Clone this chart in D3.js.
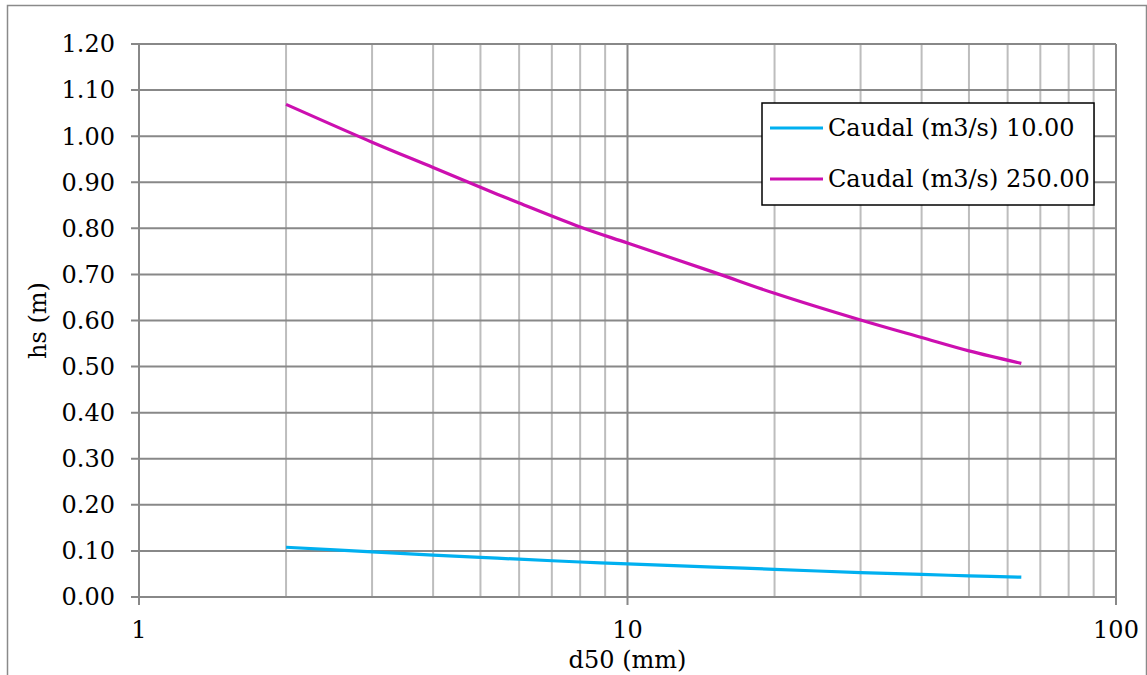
<!DOCTYPE html>
<html>
<head>
<meta charset="utf-8">
<script src="https://cdn.jsdelivr.net/npm/d3@7"></script>
<style>
  html, body { margin: 0; padding: 0; background: #fff; }
  svg { display: block; font-family: "DejaVu Serif", Georgia, serif; }
</style>
</head>
<body>
<div id="chart"></div>
<script>
// d50 (mm) sample points
const d50 = [2, 3, 4, 5, 6, 8, 10, 15, 20, 30, 40, 50, 64];
const hsQ10 = [0.108, 0.098, 0.091, 0.086, 0.082, 0.076, 0.072, 0.065, 0.060, 0.053, 0.049, 0.046, 0.043];
const hsQ250 = [1.069, 0.987, 0.932, 0.889, 0.855, 0.803, 0.768, 0.705, 0.659, 0.601, 0.563, 0.534, 0.507];
const seriesNames = ['Caudal (m3/s) 10.00', 'Caudal (m3/s) 250.00'];
const seriesColors = ['#00b0f0', '#cc0fb0'];
const yTicks = [0, 0.1, 0.2, 0.3, 0.4, 0.5, 0.6, 0.7, 0.8, 0.9, 1.0, 1.1, 1.2];
const xMajor = [1, 10, 100];

const W = 1147, H = 675;
const x = d3.scaleLog().domain([1, 100]).range([139, 1116]);
const y = d3.scaleLinear().domain([0, 1.2]).range([597, 44]);
const FS = 24;

const svg = d3.select('#chart').append('svg')
  .attr('width', W).attr('height', H);

// outer chart border
svg.append('rect')
  .attr('x', 7.5).attr('y', 5.5)
  .attr('width', 1139).attr('height', 700)
  .attr('fill', '#fff').attr('stroke', '#8a8a8a').attr('stroke-width', 1.5);

// minor vertical gridlines (2..9 per decade)
const minor = [];
for (const dec of [1, 10]) for (let k = 2; k <= 9; k++) minor.push(dec * k);

svg.append('g').selectAll('line')
  .data(minor)
  .join('line')
  .attr('x1', d => x(d)).attr('x2', d => x(d))
  .attr('y1', y(1.2)).attr('y2', y(0))
  .attr('stroke', '#bdbdbd').attr('stroke-width', 2);

// horizontal gridlines with tick stubs
svg.append('g').selectAll('line')
  .data(yTicks)
  .join('line')
  .attr('x1', 131).attr('x2', x(100))
  .attr('y1', d => y(d)).attr('y2', d => y(d))
  .attr('stroke', '#888').attr('stroke-width', 2);

// major vertical gridlines + tick stubs below axis
svg.append('g').selectAll('line')
  .data(xMajor)
  .join('line')
  .attr('x1', d => x(d)).attr('x2', d => x(d))
  .attr('y1', y(1.2)).attr('y2', y(0) + 8)
  .attr('stroke', '#888').attr('stroke-width', 2);

// y tick labels
svg.append('g').selectAll('text')
  .data(yTicks)
  .join('text')
  .attr('x', 115).attr('y', d => y(d))
  .attr('dy', '0.35em')
  .attr('text-anchor', 'end')
  .attr('font-size', FS)
  .text(d => d3.format('.2f')(d));

// x tick labels
svg.append('g').selectAll('text')
  .data(xMajor)
  .join('text')
  .attr('x', d => x(d)).attr('y', 638)
  .attr('text-anchor', 'middle')
  .attr('font-size', FS)
  .text(d => d);

// axis titles
svg.append('text')
  .attr('x', (x(1) + x(100)) / 2).attr('y', 668)
  .attr('text-anchor', 'middle')
  .attr('font-size', FS)
  .text('d50 (mm)');

svg.append('text')
  .attr('transform', `translate(46,${(y(0) + y(1.2)) / 2}) rotate(-90)`)
  .attr('text-anchor', 'middle')
  .attr('font-size', FS)
  .text('hs (m)');

// series
const line = d3.line()
  .x(d => x(d[0]))
  .y(d => y(d[1]))
  .curve(d3.curveCatmullRom.alpha(0.5));

[hsQ10, hsQ250].forEach((vals, i) => {
  svg.append('path')
    .datum(d50.map((d, j) => [d, vals[j]]))
    .attr('d', line)
    .attr('fill', 'none')
    .attr('stroke', seriesColors[i])
    .attr('stroke-width', 3.2);
});

// legend
const lg = svg.append('g');
lg.append('rect')
  .attr('x', 762).attr('y', 103)
  .attr('width', 332).attr('height', 102)
  .attr('fill', '#fff').attr('stroke', '#000').attr('stroke-width', 1.5);

seriesNames.forEach((name, i) => {
  const ly = 128 + i * 51;
  lg.append('line')
    .attr('x1', 770).attr('x2', 823)
    .attr('y1', ly).attr('y2', ly)
    .attr('stroke', seriesColors[i]).attr('stroke-width', 3.2);
  lg.append('text')
    .attr('x', 828).attr('y', ly)
    .attr('dy', '0.35em')
    .attr('font-size', FS)
    .text(name);
});
</script>
</body>
</html>
